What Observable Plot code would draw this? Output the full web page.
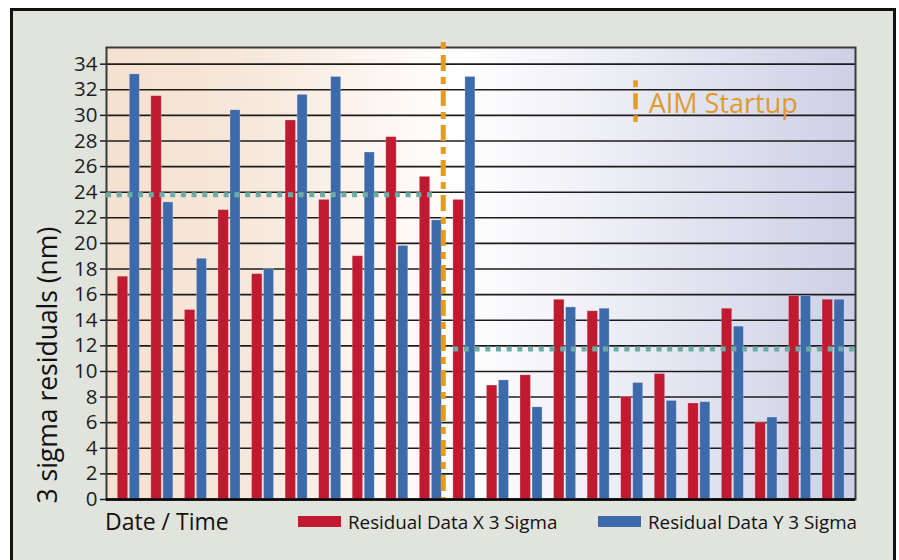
<!DOCTYPE html>
<html>
<head>
<meta charset="utf-8">
<script src="https://cdn.jsdelivr.net/npm/d3@7"></script>
<script src="https://cdn.jsdelivr.net/npm/@observablehq/plot@0.6"></script>
<style>
  html, body { margin: 0; padding: 0; background: #ffffff; width: 899px; height: 560px; overflow: hidden; font-family: "Open Sans", sans-serif; }
  #frame { position: absolute; left: 10px; top: 8px; width: 880px; height: 560px; border: 3px solid #111; background: #e1e3dd; }
  #chart { position: absolute; left: 0; top: 0; }
  .lbl { position: absolute; white-space: nowrap; color: #111; }
  .sw { position: absolute; }
</style>
</head>
<body>
<div id="frame">
  <div id="chart"></div>
  <div class="lbl" id="xlabel" style="left:92px; top:499px; font-size:23px; line-height:23px;"></div>
  <div class="sw" id="sw0" style="left:285px; top:505px; width:43px; height:11px;"></div>
  <div class="lbl" id="lg0" style="left:335px; top:501.5px; font-size:18.8px; line-height:18.8px;"></div>
  <div class="sw" id="sw1" style="left:585px; top:505px; width:43px; height:11px;"></div>
  <div class="lbl" id="lg1" style="left:635px; top:501.5px; font-size:18.8px; line-height:18.8px;"></div>
</div>
<script>
// ---- data ----
const slots = [1, 2, 3, 4, 5, 6, 7, 8, 9, 10, 11, 12, 13, 14, 15, 16, 17, 18, 19, 20, 21, 22];
const residualX = [17.4, 31.5, 14.8, 22.6, 17.6, 29.6, 23.4, 19.0, 28.3, 25.2, 23.4, 8.9, 9.7, 15.6, 14.7, 8.0, 9.8, 7.5, 14.9, 6.0, 15.9, 15.6];
const residualY = [33.2, 23.2, 18.8, 30.4, 18.0, 31.6, 33.0, 27.1, 19.8, 21.8, 33.0, 9.3, 7.2, 15.0, 14.9, 9.1, 7.7, 7.6, 13.5, 6.4, 15.9, 15.6];
const seriesNames = ["Residual Data X 3 Sigma", "Residual Data Y 3 Sigma"];
const seriesColors = ["#bf1a2f", "#3d6aab"];
const yTicks = [0, 2, 4, 6, 8, 10, 12, 14, 16, 18, 20, 22, 24, 26, 28, 30, 32, 34];
const xLabel = "Date / Time";
const yLabel = "3 sigma residuals (nm)";
// mean lines (before / after AIM startup), in slot units
const meanValues = [23.8, 11.75];
const meanFrom = [0.3355, 10.68];
const meanTo = [10.08, 22.654];
// AIM startup annotation
const startupSlot = 10.37;
const startupLabel = "AIM Startup";
const markerSlot = 16.1;
const markerRange = [32.7, 29.45];
const labelSlot = 16.49;
const labelValue = 30.2;

const rows = slots.flatMap((s, i) => [
  {slot: s, series: seriesNames[0], value: residualX[i]},
  {slot: s, series: seriesNames[1], value: residualY[i]}
]);
const meanRows = meanValues.map((v, i) => ({value: v, from: meanFrom[i], to: meanTo[i]}));

function background(index, scales, values, dims) {
  const g = d3.create("svg:g");
  const lg = g.append("defs").append("linearGradient")
    .attr("id", "bggrad").attr("x1", "0").attr("x2", "1").attr("y1", "0").attr("y2", "0");
  [[0, "#f5e1cf"], [0.2, "#f7e8dc"], [0.44, "#fffcfa"], [0.47, "#ffffff"], [0.7, "#ebebf4"], [1, "#cdd0e6"]]
    .forEach(([o, c]) => lg.append("stop").attr("offset", o).attr("stop-color", c));
  g.append("rect")
    .attr("x", dims.marginLeft).attr("y", dims.marginTop)
    .attr("width", dims.width - dims.marginLeft - dims.marginRight)
    .attr("height", dims.height - dims.marginTop - dims.marginBottom)
    .attr("fill", "url(#bggrad)");
  return g.node();
}

const dash = "7,6,16,6";
const chart = Plot.plot({
  width: 880,
  height: 500,
  marginLeft: 93,
  marginRight: 38,
  marginTop: 36,
  marginBottom: 12,
  style: {background: "transparent", fontFamily: "Open Sans, sans-serif", color: "#1e1e1e"},
  x: {type: "linear", domain: [0.3355, 22.654], axis: null},
  y: {domain: [0, 35.3], axis: null},
  color: {domain: seriesNames, range: seriesColors},
  marks: [
    background,
    Plot.gridY(yTicks, {stroke: "#1c1c1c", strokeOpacity: 1, strokeWidth: 1.6}),
    Plot.frame({stroke: "#3a3a3a", strokeWidth: 2}),
    Plot.rectY(rows, {
      x1: d => d.slot + (d.series === seriesNames[0] ? -0.328 : 0.03),
      x2: d => d.slot + (d.series === seriesNames[0] ? -0.018 : 0.328),
      y: "value",
      fill: "series",
      stroke: "#ffffff", strokeOpacity: 0.3, strokeWidth: 0.8
    }),
    Plot.ruleY(meanRows, {y: "value", x1: "from", x2: "to", stroke: "#6caea5", strokeWidth: 5, strokeDasharray: "5,5.7"}),
    Plot.ruleX([startupSlot], {y1: 35.7, y2: 0, stroke: "#e29c22", strokeWidth: 5, strokeDasharray: dash}),
    Plot.ruleX([markerSlot], {y1: markerRange[0], y2: markerRange[1], stroke: "#e29c22", strokeWidth: 4.5, strokeDasharray: dash}),
    Plot.text([startupLabel], {x: labelSlot, y: labelValue, text: d => d, textAnchor: "start", lineAnchor: "bottom", fontSize: 27, fill: "#e09a2a"}),
    Plot.axisY({ticks: yTicks, tickSize: 6, tickPadding: 3, label: null, fontSize: 20.5, stroke: "#1e1e1e", strokeWidth: 1.5}),
    Plot.ruleY([0], {stroke: "#000", strokeWidth: 2.5}),
    Plot.text([yLabel], {frameAnchor: "bottom-left", text: d => d, rotate: -90, textAnchor: "start", lineAnchor: "middle", dx: -58, dy: 4, fontSize: 26.5, fill: "#111"})
  ]
});
document.getElementById("chart").appendChild(chart);
document.getElementById("xlabel").textContent = xLabel;
document.getElementById("lg0").textContent = seriesNames[0];
document.getElementById("lg1").textContent = seriesNames[1];
document.getElementById("sw0").style.background = seriesColors[0];
document.getElementById("sw1").style.background = seriesColors[1];
</script>
</body>
</html>
